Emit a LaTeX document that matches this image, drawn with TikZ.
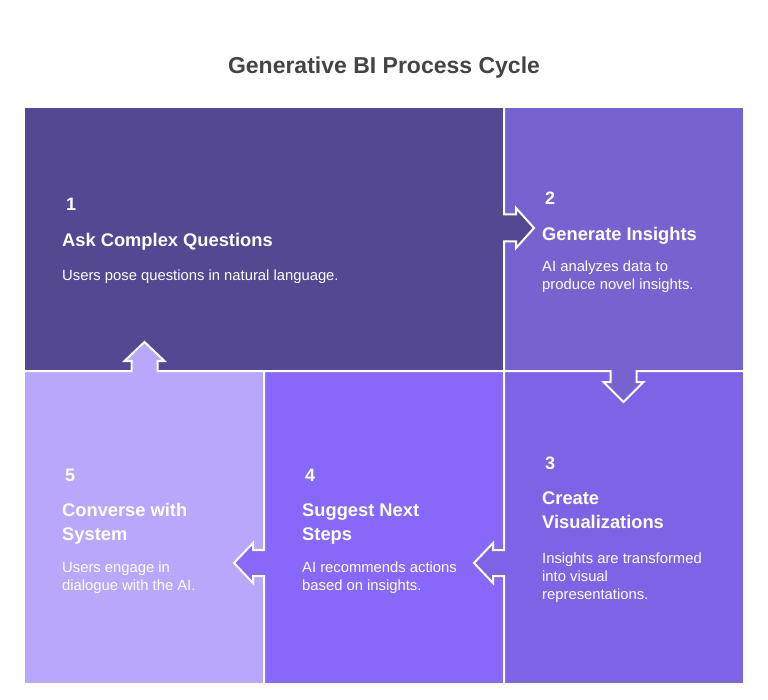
\documentclass[tikz,border=0pt]{standalone}
\usepackage{fontspec}
\setmainfont{Liberation Sans}
\definecolor{pA}{HTML}{534891}
\definecolor{pB}{HTML}{7763D0}
\definecolor{pC}{HTML}{7F63E6}
\definecolor{pD}{HTML}{8768FA}
\definecolor{pE}{HTML}{B8A7FA}
\definecolor{titlec}{HTML}{444444}
\begin{document}
\begin{tikzpicture}[x=1pt,y=-1pt,
  num/.style={anchor=base west,text=white,inner sep=0,font=\fontsize{18}{20}\selectfont\bfseries},
  head/.style={anchor=base west,text=white,inner sep=0,align=left,font=\fontsize{18.3}{24}\selectfont\bfseries},
  body/.style={anchor=base west,text=white,inner sep=0,align=left,font=\fontsize{14.8}{18}\selectfont},
  outline/.style={draw=white,line width=2pt,line join=miter}]
\useasboundingbox (0,0) rectangle (768,700);
\fill[white] (0,0) rectangle (768,700);
% title
\node[text=titlec,font=\fontsize{23}{26}\selectfont\bfseries,anchor=base] (title) at (384,74) {Generative BI Process Cycle};
% panels
\fill[pA] (25,108) rectangle (503,370);
\fill[pB] (505,108) rectangle (743,370);
\fill[pC] (505,372) rectangle (743,683);
\fill[pD] (265,372) rectangle (503,683);
\fill[pE] (25,372) rectangle (263,683);
% arrow 1 -> 2 (right)
\fill[pA] (500,214.5) -- (516,214.5) -- (516,208) -- (534,228) -- (516,248) -- (516,241.5) -- (500,241.5) -- cycle;
\draw[outline] (504,108) -- (504,214.5) -- (516,214.5) -- (516,208) -- (534,228) -- (516,248) -- (516,241.5) -- (504,241.5) -- (504,370);
% arrow 2 -> 3 (down)
\fill[pB] (610.5,368) -- (610.5,382) -- (603.5,382) -- (623.5,402) -- (643.5,382) -- (636.5,382) -- (636.5,368) -- cycle;
\draw[outline] (505,371) -- (610.5,371) -- (610.5,382) -- (603.5,382) -- (623.5,402) -- (643.5,382) -- (636.5,382) -- (636.5,371) -- (743,371);
% arrow 3 -> 4 (left)
\fill[pC] (508,550) -- (493,550) -- (493,543) -- (474,563) -- (493,583) -- (493,576) -- (508,576) -- cycle;
\draw[outline] (504,372) -- (504,550) -- (493,550) -- (493,543) -- (474,563) -- (493,583) -- (493,576) -- (504,576) -- (504,683);
% arrow 4 -> 5 (left)
\fill[pD] (268,550) -- (253,550) -- (253,543) -- (234,563) -- (253,583) -- (253,576) -- (268,576) -- cycle;
\draw[outline] (264,372) -- (264,550) -- (253,550) -- (253,543) -- (234,563) -- (253,583) -- (253,576) -- (264,576) -- (264,683);
% arrow 5 -> 1 (up)
\fill[pE] (131.5,374) -- (131.5,361) -- (124.5,361) -- (144.5,342) -- (164.5,361) -- (157.5,361) -- (157.5,374) -- cycle;
\draw[outline] (25,371) -- (131.5,371) -- (131.5,361) -- (124.5,361) -- (144.5,342) -- (164.5,361) -- (157.5,361) -- (157.5,371) -- (503,371);
% texts panel 1 (multi-line nodes: anchor at last line's baseline)
\node[num] (n1) at (66,211) {1};
\node[head] (h1) at (62,247) {Ask Complex Questions};
\node[body] (b1) at (62,281) {Users pose questions in natural language.};
% panel 2
\node[num] (n2) at (545,205) {2};
\node[head] (h2) at (542,241) {Generate Insights};
\node[body] (b2) at (542,290) {AI analyzes data to\\produce novel insights.};
% panel 3
\node[num] (n3) at (545,469) {3};
\node[head] (h3) at (542,528) {Create\\Visualizations};
\node[body] (b3) at (542,599) {Insights are transformed\\into visual\\representations.};
% panel 4
\node[num] (n4) at (305,481) {4};
\node[head] (h4) at (302,540) {Suggest Next\\Steps};
\node[body] (b4) at (302,590) {AI recommends actions\\based on insights.};
% panel 5
\node[num] (n5) at (65,481) {5};
\node[head] (h5) at (62,540) {Converse with\\System};
\node[body] (b5) at (62,590) {Users engage in\\dialogue with the AI.};
\end{tikzpicture}
\end{document}
